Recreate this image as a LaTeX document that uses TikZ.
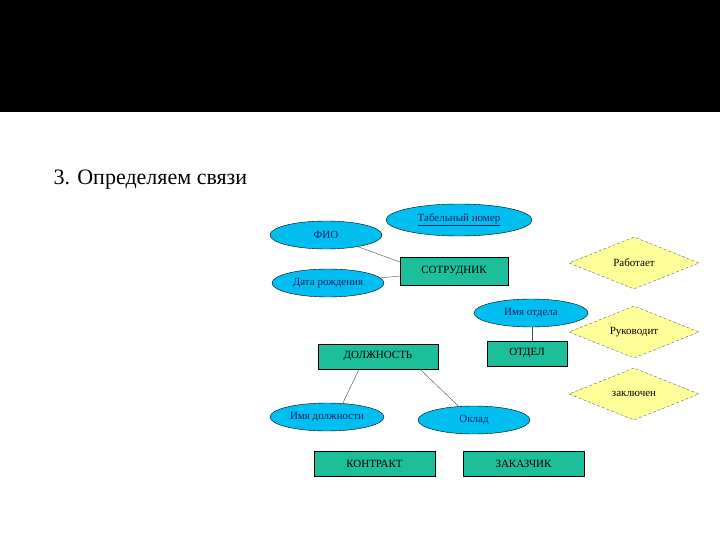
\documentclass[tikz,border=0pt]{standalone}
\usepackage{fontspec}
\setmainfont{Liberation Serif}
\usetikzlibrary{shapes.geometric}
\definecolor{ecol}{HTML}{00BFF0}
\definecolor{rcol}{HTML}{1DBF9A}
\definecolor{dcol}{HTML}{FFFF99}
\definecolor{tcol}{HTML}{102060}
\tikzset{
 attr/.style={ellipse,draw=black,fill=ecol,inner sep=0pt,font=\fontsize{11}{12}\selectfont,text=tcol},
 ent/.style={rectangle,draw=black,fill=rcol,inner sep=0pt,font=\fontsize{11}{12}\selectfont},
 rel/.style={diamond,draw=black!60,densely dashed,fill=dcol,inner sep=0pt,aspect=2.5,minimum width=130pt,minimum height=52pt,font=\fontsize{11}{12}\selectfont},
 ln/.style={draw=black!70,thin}
}
\begin{document}
\begin{tikzpicture}[x=1pt,y=-1pt]
\useasboundingbox (0,0) rectangle (720,540);
\fill[black] (0,0) rectangle (720,112);
\node[anchor=base west,font=\fontsize{22}{26}\selectfont] (title) at (50,185) {3. Определяем связи};
\node[attr,minimum width=112pt,minimum height=28pt] (fio) at (326,235) {ФИО};
\node[attr,minimum width=146pt,minimum height=32pt] (tab) at (459,220) {\underline{Табельный номер}};
\node[attr,minimum width=112pt,minimum height=28pt] (dr) at (328,283) {Дата рождения};
\node[ent,minimum width=108pt,minimum height=28pt] (sotr) at (454,271) {СОТРУДНИК};
\node[rel] (rab) at (634,263) {Работает};
\node[attr,minimum width=114pt,minimum height=28pt] (imo) at (531,313) {Имя отдела};
\node[rel] (ruk) at (634,332) {Руководит};
\node[ent,minimum width=120pt,minimum height=25pt] (dol) at (378,356.5) {ДОЛЖНОСТЬ};
\node[ent,minimum width=80pt,minimum height=25pt] (otd) at (527,353.5) {ОТДЕЛ};
\node[rel] (zak) at (634,394) {заключен};
\node[attr,minimum width=114pt,minimum height=28pt] (imd) at (327,417) {Имя должности};
\node[attr,minimum width=112pt,minimum height=28pt] (okl) at (474,420) {Оклад};
\node[ent,minimum width=121pt,minimum height=25pt] (kon) at (374.5,463.5) {КОНТРАКТ};
\node[ent,minimum width=121pt,minimum height=25pt] (zkz) at (523.5,463.5) {ЗАКАЗЧИК};
\draw[ln] (fio) -- (sotr.west |- 0,262);
\draw[ln] (dr) -- (sotr.west |- 0,276);
\draw[ln] (imo.south -| 532,0) -- (otd.north -| 532,0);
\draw[ln] (dol.south -| 359,0) -- (imd.north -| 343,0);
\draw[ln] (dol.south -| 420,0) -- (okl.north -| 458,0);
\end{tikzpicture}
\end{document}
